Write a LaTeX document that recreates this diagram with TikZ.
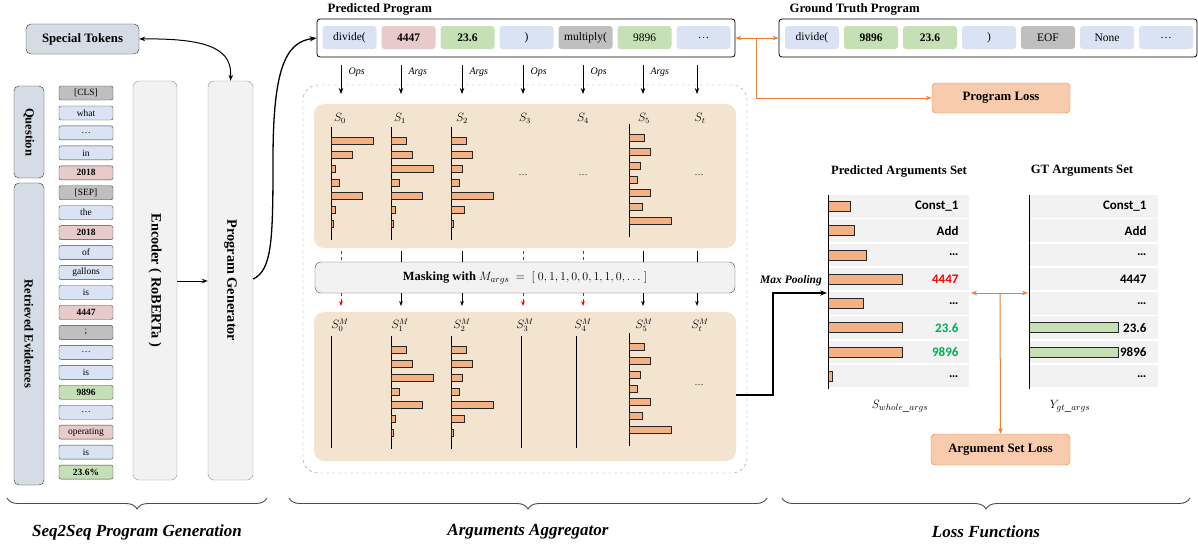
\documentclass[tikz,border=0pt]{standalone}
\usepackage{fontspec}
\setmainfont{Liberation Serif}
\newfontfamily\calib{Carlito}
\usetikzlibrary{positioning,arrows.meta,decorations.pathreplacing}

\definecolor{tkblue}{HTML}{DAE3F3}
\definecolor{tkred}{HTML}{E8CACA}
\definecolor{tkgray}{HTML}{BFBFBF}
\definecolor{tkgreen}{HTML}{C5E0B4}
\definecolor{sidefill}{HTML}{D6DCE5}
\definecolor{modfill}{HTML}{F2F2F2}
\definecolor{modedge}{HTML}{8497B0}
\definecolor{beige}{HTML}{F3E4CF}
\definecolor{barfill}{HTML}{F4B183}
\definecolor{lossfill}{HTML}{F8CBAD}
\definecolor{lossedge}{HTML}{ED7D31}
\definecolor{rowfill}{HTML}{F2F2F2}
\definecolor{argred}{HTML}{FF0000}
\definecolor{arggreen}{HTML}{00B050}

\begin{document}
\begin{tikzpicture}[x=1pt,y=-1pt,
    tok/.style={draw=black!75,rounded corners=2pt,minimum width=54pt,minimum height=14pt,inner sep=0pt,font=\fontsize{9.5}{10}\selectfont},
    cell/.style={rounded corners=3pt,minimum width=54pt,minimum height=23pt,inner sep=0pt,font=\fontsize{11.5}{13}\selectfont},
    frame/.style={draw=black,rounded corners=3pt,minimum width=418pt,minimum height=38pt,inner sep=0pt,line width=0.8pt},
    side/.style={draw=black!80,fill=sidefill,rounded corners=5pt,inner sep=0pt,minimum width=30pt},
    module/.style={draw=modedge,fill=modfill,rounded corners=6pt,inner sep=0pt,minimum height=399pt},
    vlabel/.style={rotate=-90,font=\bfseries\fontsize{12.5}{14}\selectfont},
    title/.style={anchor=west,font=\bfseries\fontsize{12.8}{14}\selectfont},
    loss/.style={draw=lossedge,fill=lossfill,rounded corners=4pt,minimum width=138pt,minimum height=30pt,font=\bfseries\fontsize{12.8}{14}\selectfont},
    bar/.style={draw=black!85,fill=barfill,line width=0.8pt},
    orangearrow/.style={draw=lossedge,line width=1pt,-{Stealth[length=6pt]}},
    flow/.style={line width=1pt,-{Stealth[length=6pt]}},
    brace/.style={decorate,decoration={brace,mirror,amplitude=11pt},draw=black!70,line width=0.9pt},
    part/.style={font=\bfseries\itshape\fontsize{17}{19}\selectfont},
    slab/.style={inner sep=0.5pt,font=\fontsize{12}{13}\selectfont},
    argtxt/.style={anchor=east,font=\calib\bfseries\fontsize{13}{14}\selectfont}]
\useasboundingbox (0,0) rectangle (1198,547);

% input side
\node[side,minimum width=113pt,minimum height=30pt,font=\bfseries\fontsize{12.8}{14}\selectfont] (spec) at (82.5,39) {Special Tokens};
\node[side,minimum height=92pt] (quest) at (29,132) {};
\node[vlabel] (quest-t) at (quest) {Question};
\node[side,minimum height=302pt] (evid) at (29,334) {};
\node[vlabel] (evid-t) at (evid) {Retrieved Evidences};
\foreach \t/\c [count=\i from 0] in {[CLS]/tkgray,what/tkblue,\dots/tkblue,in/tkblue,\textbf{2018}/tkred,[SEP]/tkgray,the/tkblue,\textbf{2018}/tkred,of/tkblue,gallons/tkblue,is/tkblue,\textbf{4447}/tkred,;/tkgray,\dots/tkblue,is/tkblue,\textbf{9896}/tkgreen,\dots/tkblue,operating/tkred,is/tkblue,\textbf{23.6\%}/tkgreen}
    \node[tok,fill=\c] (tok\i) at (86,93+19.95*\i) {\t};
\node[module,minimum width=44pt] (enc) at (155,280.5) {};
\node[vlabel,font=\bfseries\fontsize{14.3}{16}\selectfont] (enc-t) at (enc) {Encoder ( RoBERTa )};
\node[module,minimum width=45pt] (pgen) at (230.5,280.5) {};
\node[vlabel,font=\bfseries\fontsize{14.3}{16}\selectfont] (pgen-t) at (pgen) {Program Generator};
\draw[{Stealth[length=6pt]}-{Stealth[length=6pt]},line width=1pt] (spec.east) .. controls (215,38) and (232,52) .. (pgen.north);
\draw[flow] (177,281) -- (pgen.west |- 0,281);

% programs
\node[title] (pp-t) at (324,9) {Predicted Program};
\node[frame] (pp) at (526,38) {};
\foreach \t/\c [count=\i from 0] in {divide(/tkblue,\textbf{4447}/tkred,\textbf{23.6}/tkgreen,)/tkblue,multiply(/tkgray,9896/tkgreen,\dots/tkblue}
    \node[cell,fill=\c] (p\i) at (349.5+59*\i,37.5) {\t};
\node[title] (gt-t) at (786,9) {Ground Truth Program};
\node[frame] (gt) at (988,38) {};
\foreach \t/\c [count=\i from 0] in {divide(/tkblue,\textbf{9896}/tkgreen,\textbf{23.6}/tkgreen,)/tkblue,EOF/tkgray,None/tkblue,\dots/tkblue}
    \node[cell,fill=\c] (g\i) at (812+59*\i,37.5) {\t};
\draw[line width=1.3pt,-{Stealth[length=7pt]}] (pgen.east |- 0,279) .. controls (272,270) and (273,240) .. (273,160) .. controls (273,70) and (285,42) .. (pp.west);
\node[loss] (pl) at (1001,98) {Program Loss};
\coordinate (pj) at (756,38);
\draw[orangearrow] (pj) -- (pp.east);
\draw[orangearrow] (pj) -- (gt.west);
\draw[orangearrow] (pj) |- (pl.west);

% arguments aggregator
\draw[dashed,draw=black!45,rounded corners=15pt] (303,85) rectangle (747,473);
\fill[beige,rounded corners=10pt] (314,104) rectangle (736,248);
\fill[beige,rounded corners=10pt] (314,312) rectangle (736,461);
\node[draw=black!70,fill=modfill,rounded corners=6pt,minimum width=420pt,minimum height=31pt] (mask) at (525,277.5)
    {\fontsize{12.5}{14}\selectfont\textbf{Masking with} $M_{args}\ =\ [\ 0, 1, 1, 0, 0, 1, 1, 0, \dots\ ]$};
\foreach \x/\lab/\m [count=\i from 0] in {341/Ops/0,401/Args/1,462/Args/1,523/Ops/0,583/Ops/0,643/Args/1,697//1}{
    \draw[flow,line width=0.8pt] (\x,65) -- (\x,94);
    \node[anchor=west,font=\itshape\fontsize{10}{11}\selectfont] (lab\i) at (\x+4,72) {\lab};
    \ifnum\m=0
        \draw[red,dashed,line width=0.8pt] (\x,251) -- (\x,262);
        \draw[red,dashed,line width=0.8pt,-{Stealth[length=5pt,sep=0pt]}] (\x,293) -- (\x,306);
    \else
        \draw[line width=0.8pt] (\x,251) -- (\x,262);
        \draw[line width=0.8pt,-{Stealth[length=5pt]}] (\x,293) -- (\x,306);
    \fi
}
\foreach \x/\s [count=\i from 0] in {340/0,400/1,462/2,525/3,583/4,644/5,700/t}{
    \node[slab] (s\i) at (\x,118) {$S_{\s}$};
    \node[slab] (sm\i) at (\x,325) {$S_{\s}^{M}$};
}
\foreach \x/\y [count=\i] in {523/178,583/178,699/178,699/388}
    \node[font=\fontsize{9}{10}\selectfont] (gap\i) at (\x,\y-3) {\dots};
% score bars, upper and lower panel
\foreach \ax/\yo/\lens in {331/141/{42,21,4,8,31,4,2},391/141/{15,21,42,8,31,4,2},451/141/{15,21,11,8,42,13,2},629/138/{15,21,11,8,21,13,42}}{
    \draw[line width=0.9pt] (\ax,\yo-14) -- (\ax,\yo+99);
    \foreach \l [count=\j from 0] in \lens
        \draw[bar] (\ax,\yo+13.8*\j-3.5) rectangle ++(\l,7);
}
\foreach \ax/\yo/\lens in {391/350/{15,21,42,8,31,4,2},451/350/{15,21,11,8,42,13,2},629/347/{15,21,11,8,21,13,42}}{
    \draw[line width=0.9pt] (\ax,\yo-14) -- (\ax,\yo+99);
    \foreach \l [count=\j from 0] in \lens
        \draw[bar] (\ax,\yo+13.8*\j-3.5) rectangle ++(\l,7);
}
\foreach \ax in {331,521,576}
    \draw[line width=0.9pt] (\ax,336) -- (\ax,448);

% argument sets
\node[font=\bfseries\fontsize{12.7}{14}\selectfont] (pa-t) at (899,171) {Predicted Arguments Set};
\node[font=\bfseries\fontsize{12.7}{14}\selectfont] (ga-t) at (1082,171) {GT Arguments Set};
\foreach \t/\c/\l/\g [count=\i from 0] in {Const\_1/black/22/0,Add/black/26/0,\dots/black/38/0,4447/argred/74/0,\dots/black/35/0,23.6/arggreen/74/89,9896/arggreen/74/89,\dots/black/4/0}{
    \fill[rowfill] (828,195+24.25*\i) rectangle (969,217.5+24.25*\i);
    \fill[rowfill] (1029,195+24.25*\i) rectangle (1158,217.5+24.25*\i);
    \draw[bar] (828,201.5+24.25*\i) rectangle ++(\l,10);
    \ifnum\g>0 \draw[bar,fill=tkgreen] (1029,201.5+24.25*\i) rectangle ++(\g,10); \fi
    \node[argtxt,text=\c] (pa\i) at (962,206.5+24.25*\i) {\t};
    \node[argtxt] (ga\i) at (1150,206.5+24.25*\i) {\ifnum\i=3 4447\else\t\fi};
}
\draw[line width=0.9pt] (828,195) -- (828,389);
\draw[line width=0.9pt] (1029,195) -- (1029,389);
\node[font=\fontsize{13}{14}\selectfont] (sw) at (900,406) {$S_{whole\_args}$};
\node[font=\fontsize{13}{14}\selectfont] (yg) at (1070,406) {$Y_{gt\_args}$};
\draw[line width=1.4pt,-{Stealth[length=7pt]}] (736,395) -- (773,395) -- (773,293) -- (827,293);
\node[font=\bfseries\itshape\fontsize{11.5}{13}\selectfont] (mp) at (791,281) {Max Pooling};
\node[loss,minimum width=139pt,minimum height=31pt] (asl) at (1000.5,449.5) {Argument Set Loss};
\coordinate (aj) at (1000,293);
\draw[orangearrow] (aj) -- (971,293);
\draw[orangearrow] (aj) -- (1028,293);
\draw[orangearrow] (aj) -- (asl.north);

% stage braces
\draw[brace] (7,498) -- (267,498);
\draw[brace] (289,498) -- (767,498);
\draw[brace] (782,498) -- (1190,498);
\node[part] (stage1) at (137,532) {Seq2Seq Program Generation};
\node[part] (stage2) at (528,532) {Arguments Aggregator};
\node[part] (stage3) at (986,532) {Loss Functions};
\end{tikzpicture}
\end{document}
